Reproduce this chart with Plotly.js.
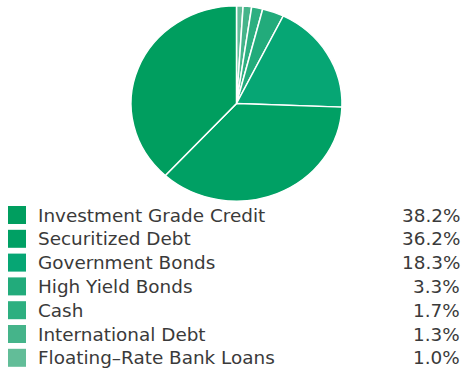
<!DOCTYPE html>
<html><head><meta charset="utf-8">
<script src="https://cdn.plot.ly/plotly-3.0.1.min.js"></script>
<style>html,body{margin:0;padding:0;background:#fff}#c{width:463px;height:372px}</style>
</head><body><div id="c"></div>
<script>
const categories = ["Investment Grade Credit","Securitized Debt","Government Bonds","High Yield Bonds","Cash","International Debt","Floating-Rate Bank Loans"];
const values = [38.2, 36.2, 18.3, 3.3, 1.7, 1.3, 1.0];
const valueLabels = ["38.2%","36.2%","18.3%","3.3%","1.7%","1.3%","1.0%"];
const colors = ["#009e5f","#00a064","#06a674","#22ab7b","#2daf80","#45b48a","#62bd98"];

const W = 463, H = 372;
const annotations = [], shapes = [];
const rowTop = 206, rowStep = 23.8, sq = 18;
const FONT = {family:"DejaVu Sans, sans-serif", size:18.4, color:"#3a3a3a"};
categories.forEach((c, i) => {
  const yc = rowTop + 9 + i * rowStep;
  shapes.push({type:"rect", xref:"paper", yref:"paper", x0: 8/W, x1: 26/W,
    y0: 1 - (yc + sq/2)/H, y1: 1 - (yc - sq/2)/H, fillcolor: colors[i], line:{width:0}});
  annotations.push({xref:"paper", yref:"paper", x: 36/W, y: 1 - yc/H, xanchor:"left", yanchor:"middle",
    text: c.replace("-", "–"), showarrow:false, font:FONT});
  annotations.push({xref:"paper", yref:"paper", x: 462/W, y: 1 - yc/H, xanchor:"right", yanchor:"middle",
    text: valueLabels[i], showarrow:false, font:FONT});
});

// pie runs clockwise from 12 o'clock starting with the smallest slice
const rev = a => a.slice().reverse();
Plotly.newPlot("c", [{
  type:"pie", labels: rev(categories), values: rev(values), sort:false, direction:"clockwise", rotation:0,
  marker:{colors: rev(colors), line:{color:"#fff", width:1.5}}, textinfo:"none", hoverinfo:"label+percent",
  domain:{x:[10/W, 1], y:[1 - 211/H, 1]}
}], {
  width: W, height: H, margin:{l:0,r:0,t:0,b:0}, showlegend:false,
  paper_bgcolor:"#fff", annotations, shapes
}, {staticPlot:true}).then(gd => {
  // the reference pie is slightly flattened vertically
  const layer = gd.querySelector(".pielayer");
  if (layer) layer.setAttribute("transform", "translate(0,103.5) scale(1,0.925) translate(0,-105.5)");
});
</script></body></html>
